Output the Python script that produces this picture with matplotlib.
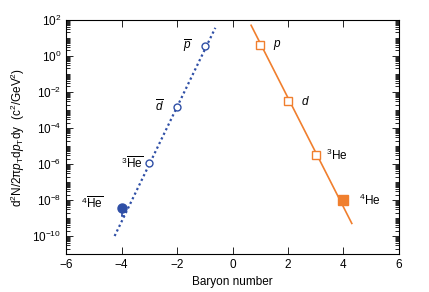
import numpy as np
import matplotlib
matplotlib.use("Agg")
import matplotlib.pyplot as plt
from matplotlib.ticker import LogLocator, NullFormatter, FixedLocator

plt.rcParams["font.family"] = ["Liberation Sans", "DejaVu Sans"]
plt.rcParams["mathtext.fontset"] = "custom"
plt.rcParams["mathtext.rm"] = "Liberation Sans"
plt.rcParams["mathtext.it"] = "Liberation Sans:italic"
plt.rcParams["mathtext.bf"] = "Liberation Sans:bold"

BLUE = "#2f4fa6"
ORANGE = "#f07f2e"

# =========================
# DATA
# =========================
anti_baryon = [-1, -2, -3]
anti_yield = [3.6, 1.5e-3, 1.1e-6]
anti_labels = [r"$\overline{p}$", r"$\overline{d}$", r"$^{3}\overline{\rm He}$"]

anti_he4_x = [-4]
anti_he4_y = [3.6e-9]
anti_he4_err_low = [2.3e-9]
anti_he4_label = r"$^{4}\overline{\rm He}$"

matter_baryon = [1, 2, 3]
matter_yield = [4.0, 3.0e-3, 3.0e-6]
matter_labels = [r"$p$", r"$d$", r"$^{3}$He"]

he4_x = [4]
he4_y = [1.0e-8]
he4_label = r"$^{4}$He"

# fitted lines (end points)
anti_line_x = [-4.25, -0.62]
anti_line_y = [1.0e-10, 3.6e1]
matter_line_x = [0.67, 4.3]
matter_line_y = [5.0e1, 5.0e-10]

# =========================
# PLOT
# =========================
fig = plt.figure(figsize=(4.29, 2.92), dpi=100)
ax = fig.add_axes([0.154, 0.130, 0.776, 0.802])

ax.plot(anti_line_x, anti_line_y, ls=(0, (1, 1.3)), lw=1.6, color=BLUE, zorder=1)
ax.plot(matter_line_x, matter_line_y, ls="-", lw=1.2, color=ORANGE, zorder=1)

ax.plot(anti_baryon, anti_yield, "o", ms=5, mfc="white", mec=BLUE, mew=1.0, zorder=3)
ax.errorbar(anti_he4_x, anti_he4_y, yerr=[anti_he4_err_low, [0]], fmt="o", ms=6.5,
            color=BLUE, ecolor=BLUE, elinewidth=1.2, capsize=0, zorder=3)
ax.plot([anti_he4_x[0], anti_he4_x[0] + 0.08],
        [anti_he4_y[0] - anti_he4_err_low[0]] * 2, color=BLUE, lw=1.2)

ax.plot(matter_baryon, matter_yield, "s", ms=5.5, mfc="white", mec=ORANGE, mew=1.0, zorder=3)
ax.plot(he4_x, he4_y, "s", ms=6.5, color=ORANGE, zorder=3)

# labels
for x, y, t in zip(anti_baryon, anti_yield, anti_labels):
    ax.text(x - 0.62, y, t, fontsize=8.5, ha="center", va="center")
ax.text(anti_he4_x[0] - 1.05, anti_he4_y[0] * 1.8, anti_he4_label, fontsize=8.5,
        ha="center", va="center")
for x, y, t in zip(matter_baryon, matter_yield, matter_labels):
    ax.text(x + 0.62 + (0.15 if "He" in t else 0), y, t, fontsize=8.5,
            ha="center", va="center")
ax.text(he4_x[0] + 0.95, he4_y[0], he4_label, fontsize=8.5, ha="center", va="center")

ax.set_xlim(-6, 6)
ax.set_ylim(1e-11, 1e2)
ax.set_yscale("log")

ax.set_xticks([-6, -4, -2, 0, 2, 4, 6])
ax.set_xticklabels(["\u22126", "\u22124", "\u22122", "0", "2", "4", "6"])
ax.set_yticks([10.0 ** k for k in range(-10, 3, 2)])
ax.set_yticklabels([r"10$^{%d}$" % k for k in range(-10, 3, 2)])
ax.yaxis.set_minor_locator(LogLocator(base=10, subs=np.arange(1, 10), numticks=50))
ax.yaxis.set_minor_formatter(NullFormatter())

ax.tick_params(axis="both", which="both", direction="in", top=True, right=True,
               labelsize=8.5, width=0.6)
ax.tick_params(axis="both", which="major", length=5)
ax.tick_params(axis="y", which="minor", length=3)
for s in ax.spines.values():
    s.set_linewidth(0.8)

ax.set_xlabel("Baryon number", fontsize=8.5)
ax.set_ylabel(r"d$^{2}$N/2π$p_{\rm T}$d$p_{\rm T}$dy  (c$^{2}$/GeV$^{2}$)", fontsize=8.5)

fig.savefig("out.png", dpi=100)
